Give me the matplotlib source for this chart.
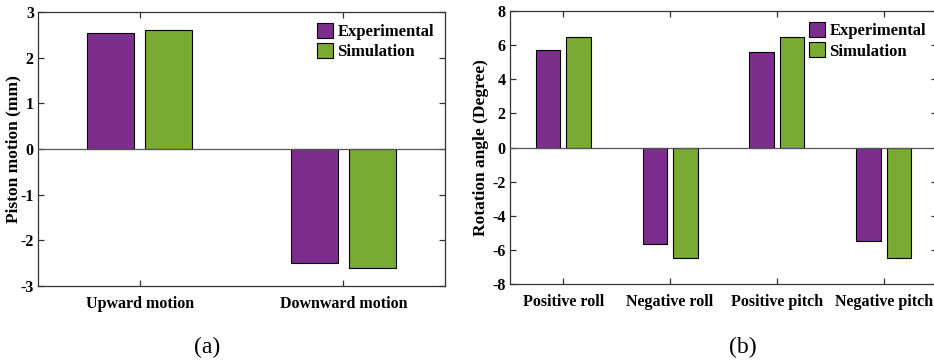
import numpy as np
import matplotlib
matplotlib.use('Agg')
import matplotlib.pyplot as plt

plt.rcParams['font.family'] = 'serif'
plt.rcParams['font.serif'] = ['Liberation Serif', 'DejaVu Serif']
plt.rcParams['font.weight'] = 'bold'
plt.rcParams['axes.unicode_minus'] = False

# piston motion (mm)
piston_cats = ['Upward motion', 'Downward motion']
piston_exp = [2.55, -2.5]
piston_sim = [2.6, -2.6]

# rotation angle (degree)
rot_cats = ['Positive roll', 'Negative roll', 'Positive pitch', 'Negative pitch']
rot_exp = [5.7, -5.65, 5.6, -5.5]
rot_sim = [6.5, -6.5, 6.5, -6.5]

c_exp = '#7d2e8d'
c_sim = '#79aa32'
edge = '#333333'


def bar_panel(ax, cats, exp, sim, ylim, yticks, ylabel, ylab_x):
    x = np.arange(1, len(cats) + 1)
    w = 0.23
    off = 0.143
    ax.bar(x - off, exp, w, color=c_exp, edgecolor='black', lw=0.8, label='Experimental', zorder=2)
    ax.bar(x + off, sim, w, color=c_sim, edgecolor='black', lw=0.8, label='Simulation', zorder=2)
    ax.axhline(0, color='#555555', lw=0.9, zorder=3)
    ax.set_xlim(0.5, len(cats) + 0.5)
    ax.set_ylim(*ylim)
    ax.set_xticks(x)
    ax.set_xticklabels(cats)
    ax.set_yticks(yticks)
    ax.set_ylabel(ylabel, fontsize=12.5, fontweight='bold')
    ax.yaxis.set_label_coords(ylab_x, 0.5)
    ax.tick_params(axis='both', direction='in', top=True, right=True, length=4,
                   width=0.9, color=edge, labelsize=11.5)
    ax.tick_params(axis='y', pad=3)
    ax.tick_params(axis='x', pad=7)
    for s in ax.spines.values():
        s.set_color(edge)
        s.set_linewidth(0.9)
    for t in ax.get_xticklabels() + ax.get_yticklabels():
        t.set_fontweight('bold')
    ax.legend(loc='upper right', frameon=False, handlelength=1.0,
              handleheight=1.0, handletextpad=0.25, labelspacing=0.2,
              borderaxespad=0.25, prop={'weight': 'bold', 'size': 12})
    return ax


fig = plt.figure(figsize=(9.34, 3.63), dpi=100)
ax1 = fig.add_axes([38/934, 77/363, 407/934, 274/363])
ax2 = fig.add_axes([510/934, 79/363, 427/934, 273/363])

bar_panel(ax1, piston_cats, piston_exp, piston_sim, (-3, 3), np.arange(-3, 4, 1),
          'Piston motion (mm)', -17/407)
bar_panel(ax2, rot_cats, rot_exp, rot_sim, (-8, 8), np.arange(-8, 9, 2),
          'Rotation angle (Degree)', -21/427)

fig.text(207/934, 1 - 347/363, '(a)', fontsize=17, fontweight='normal', ha='center', va='center')
fig.text(743/934, 1 - 347/363, '(b)', fontsize=17, fontweight='normal', ha='center', va='center')

fig.savefig('out.png', dpi=100)
